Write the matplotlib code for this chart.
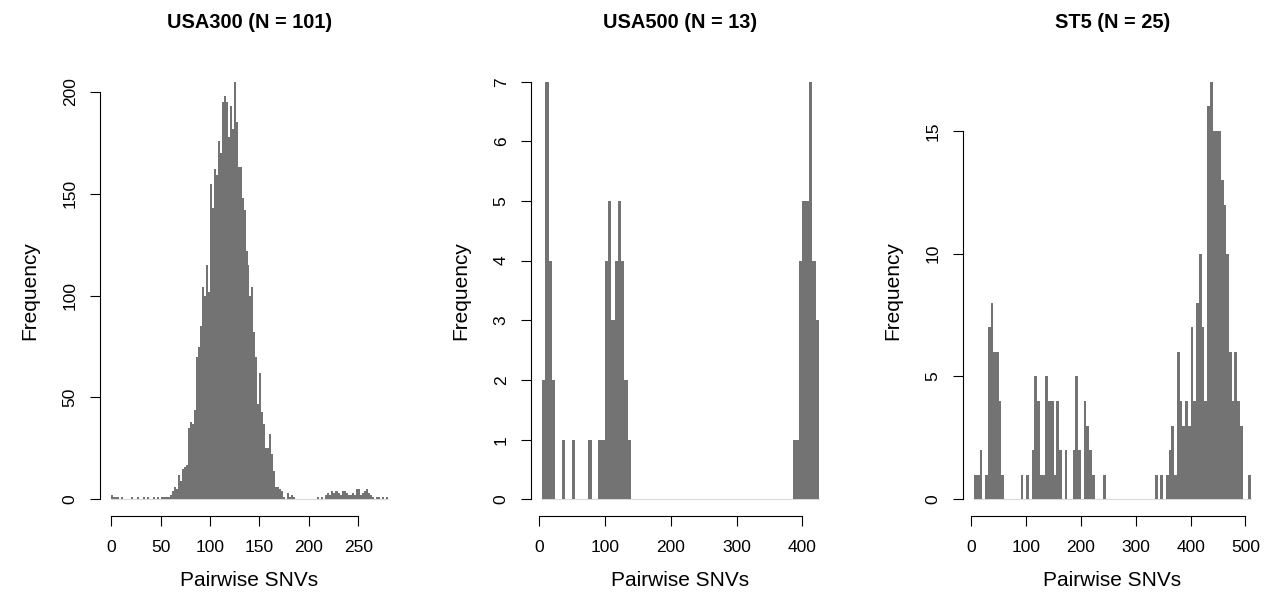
import numpy as np
import matplotlib
matplotlib.use("Agg")
import matplotlib.pyplot as plt

plt.rcParams['font.family'] = ['Liberation Sans', 'DejaVu Sans']

# USA300: bins of width 2 starting at 0
usa300_start = 0
usa300_width = 2
usa300_counts = [
    2, 1, 1, 1, 0, 1, 0, 0, 0, 0,
    1, 0, 0, 1, 0, 0, 1, 0, 1, 0,
    0, 1, 0, 1, 0, 1, 1, 1, 1, 1,
    2, 4, 6, 5, 12, 9, 15, 16, 17, 35,
    38, 37, 44, 70, 75, 85, 104, 100, 115, 102,
    155, 143, 162, 159, 176, 170, 195, 198, 195, 178,
    193, 182, 205, 185, 163, 163, 148, 142, 122, 115,
    100, 104, 82, 70, 47, 62, 43, 37, 25, 25,
    32, 22, 14, 6, 6, 5, 4, 1, 0, 3,
    1, 2, 1, 0, 0, 0, 0, 0, 0, 0,
    0, 0, 0, 0, 1, 0, 1, 0, 2, 3,
    2, 4, 3, 4, 4, 3, 2, 4, 4, 3,
    2, 2, 3, 2, 5, 5, 2, 3, 4, 5,
    3, 2, 1, 0, 1, 1, 0, 1, 0, 1,
]

# USA500: bins of width 5 starting at 5
usa500_start = 5
usa500_width = 5
usa500_counts = [0] * 84
for k, v in [(0, 2), (1, 7), (2, 4), (3, 2), (6, 1), (9, 1), (14, 1), (17, 1),
             (18, 1), (19, 4), (20, 5), (21, 3), (22, 4), (23, 5), (24, 4),
             (25, 2), (26, 1), (76, 1), (77, 1), (78, 4), (79, 5), (80, 5),
             (81, 7), (82, 4), (83, 3)]:
    usa500_counts[k] = v

# ST5: bins of width 5 starting at 5
st5_start = 5
st5_width = 5
st5_counts = [
    1, 1, 2, 0, 1, 7, 8, 6, 6, 4,
    1, 0, 0, 0, 0, 0, 0, 1, 0, 1,
    0, 2, 5, 4, 1, 1, 5, 4, 4, 1,
    4, 2, 0, 2, 0, 0, 2, 5, 2, 0,
    4, 3, 2, 1, 0, 0, 0, 1, 0, 0,
    0, 0, 0, 0, 0, 0, 0, 0, 0, 0,
    0, 0, 0, 0, 0, 0, 1, 0, 1, 0,
    1, 2, 3, 1, 6, 4, 3, 4, 3, 7,
    4, 8, 10, 7, 4, 16, 17, 15, 15, 15,
    13, 12, 10, 6, 4, 6, 4, 3, 0, 0,
    1,
]

panels = [
    ("USA300 (N = 101)", usa300_start, usa300_width, usa300_counts,
     [0, 50, 100, 150, 200, 250], [0, 50, 100, 150, 200]),
    ("USA500 (N = 13)", usa500_start, usa500_width, usa500_counts,
     [0, 100, 200, 300, 400], [0, 1, 2, 3, 4, 5, 6, 7]),
    ("ST5 (N = 25)", st5_start, st5_width, st5_counts,
     [0, 100, 200, 300, 400, 500], [0, 5, 10, 15]),
]

fig = plt.figure(figsize=(12.7, 5.92), dpi=100)
lefts = [100, 531, 963]
bar_col = "#737373"

for (title, start, width, counts, xt, yt), lp in zip(panels, lefts):
    ax = fig.add_axes([lp / 1270, (592 - 516) / 592, 299 / 1270, 451 / 592])
    counts = np.array(counts)
    edges = start + width * np.arange(len(counts) + 1)
    ax.bar(edges[:-1], counts, width=width, align="edge", color=bar_col,
           linewidth=0, antialiased=False)
    ax.plot([edges[0], edges[-1]], [0, 0], color="#d9d9d9", lw=0.8, zorder=0)

    x0, x1 = edges[0], edges[-1]
    ymax = counts.max()
    dx = 0.04 * (x1 - x0)
    dy = 0.04 * ymax
    ax.set_xlim(x0 - dx, x1 + dx)
    ax.set_ylim(-dy, ymax + dy)

    for s in ["top", "right"]:
        ax.spines[s].set_visible(False)
    ax.spines["bottom"].set_bounds(xt[0], xt[-1])
    ax.spines["left"].set_bounds(yt[0], yt[-1])
    for s in ["bottom", "left"]:
        ax.spines[s].set_linewidth(0.8)
    ax.set_xticks(xt)
    ax.set_yticks(yt)
    ax.tick_params(direction="out", length=7, width=0.8, labelsize=12.5)
    ax.tick_params(axis="x", pad=10)
    ax.tick_params(axis="y", pad=9)
    plt.setp(ax.get_yticklabels(), rotation=90, va="center")

    ax.text(0.5, 1.095, title, transform=ax.transAxes, ha="center",
            va="center", fontsize=14.4, fontweight="bold")
    ax.text(0.5, -0.142, "Pairwise SNVs", transform=ax.transAxes,
            ha="center", va="center", fontsize=15)
    ax.text(-0.234, 0.5, "Frequency", transform=ax.transAxes, rotation=90,
            ha="center", va="center", fontsize=15)

fig.savefig("out.png", dpi=100)
